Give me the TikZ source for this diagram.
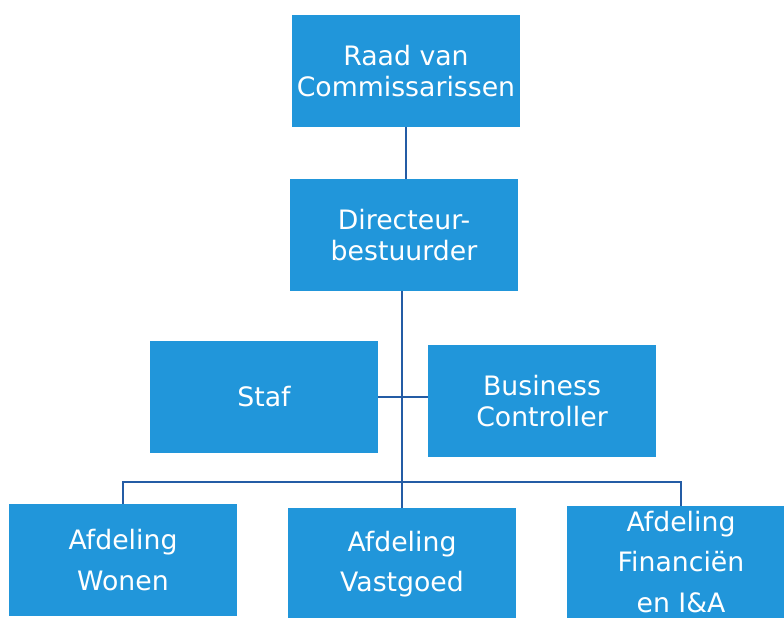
\documentclass[tikz,border=0pt]{standalone}
\usepackage{fontspec}
\setmainfont{DejaVu Sans}
\usetikzlibrary{calc,positioning}
\definecolor{vakblauw}{RGB}{33,150,218}
\definecolor{lijnblauw}{RGB}{36,92,165}
\tikzset{
  vak/.style={fill=vakblauw, text=white, minimum width=5.7cm, minimum height=2.8cm, inner sep=0pt, align=center, font=\fontsize{19}{21.5}\selectfont},
  vakruim/.style={vak, font=\fontsize{19}{28.5}\selectfont},
  lijn/.style={draw=lijnblauw, line width=1.6pt}
}

\begin{document}
\begin{tikzpicture}[x=0.025cm,y=-0.025cm]
    \useasboundingbox (0,0) rectangle (784,618);
    \clip (0,0) rectangle (784,618);

    \node[vak] (raad) at (406,71) {Raad van\\Commissarissen};
    \node[vak] (directeur) at (404,235) {Directeur-\\bestuurder};
    \node[vak] (staf) at (264,397) {Staf};
    \node[vak] (controller) at (542,401) {Business\\Controller};
    \node[vakruim] (wonen) at (123,560) {Afdeling\\Wonen};
    \node[vakruim] (vastgoed) at (402,564) {Afdeling\\Vastgoed};
    \node[vakruim] (financien) at (681,562) {Afdeling\\Financiën\\en I\&A};

    % lijnen
    \draw[lijn] (raad.south) -- (raad.south |- directeur.north);
    \draw[lijn] (vastgoed.north |- directeur.south) -- (vastgoed.north);
    \draw[lijn] (staf.east) -- (staf.east -| controller.west);
    \coordinate (splitsing) at ($(vastgoed.north)+(0,-26)$);
    \draw[lijn] (wonen.north) |- (splitsing) -| (financien.north);

\end{tikzpicture}
\end{document}
